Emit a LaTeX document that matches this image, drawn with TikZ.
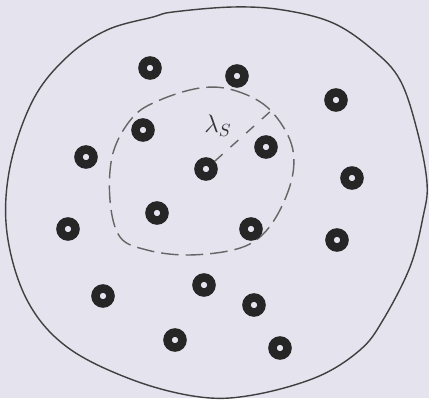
\documentclass[tikz,border=0pt]{standalone}
\begin{document}
\begin{tikzpicture}[x=0.02cm,y=-0.02cm,
  pen/.style={draw=black!75, line width=0.8pt},
  ring/.style={circle, draw=black!85, line width=0.17cm, inner sep=0pt, minimum size=0.30cm, fill=paper}]
\definecolor{paper}{RGB}{228,227,238}
\fill[paper] (0,0) rectangle (429,398);
\draw[pen] plot[smooth cycle, tension=0.6] coordinates {(153,17) (173,12) (233,7) (283,10) (333,23) (373,50) (400,80) (417,130) (427,183) (423,217) (410,267) (383,320) (360,350) (317,377) (253,395) (200,397) (133,380) (67,347) (27,300) (7,233) (10,167) (33,100) (67,57) (107,30)};
\draw[pen, draw=black!60, dashed, dash pattern=on 10pt off 4pt] plot[smooth cycle, tension=0.6] coordinates {(200,88) (233,90) (267,107) (290,140) (293,173) (280,210) (260,237) (233,250) (187,255) (147,250) (120,237) (110,200) (113,153) (133,117) (160,100)};
\node[ring] (d1) at (150,68) {};
\node[ring] (d2) at (237,76) {};
\node[ring] (d3) at (336,100) {};
\node[ring] (d4) at (143,130) {};
\node[ring] (d5) at (266,147) {};
\node[ring] (d6) at (86,157) {};
\node[ring] (d7) at (206,169) {};
\node[ring] (d8) at (352,178) {};
\node[ring] (d9) at (157,213) {};
\node[ring] (d10) at (251,229) {};
\node[ring] (d11) at (68,229) {};
\node[ring] (d12) at (337,240) {};
\node[ring] (d13) at (204,285) {};
\node[ring] (d14) at (103,296) {};
\node[ring] (d15) at (254,305) {};
\node[ring] (d16) at (175,340) {};
\node[ring] (d17) at (280,348) {};
\coordinate (rim) at (272,110);
\draw[pen, draw=black!60, dashed, dash pattern=on 6pt off 6pt] (d7) -- (rim);
\node[text=black!80] (lam) at (218,126) {\Large $\lambda_S$};
\end{tikzpicture}
\end{document}
